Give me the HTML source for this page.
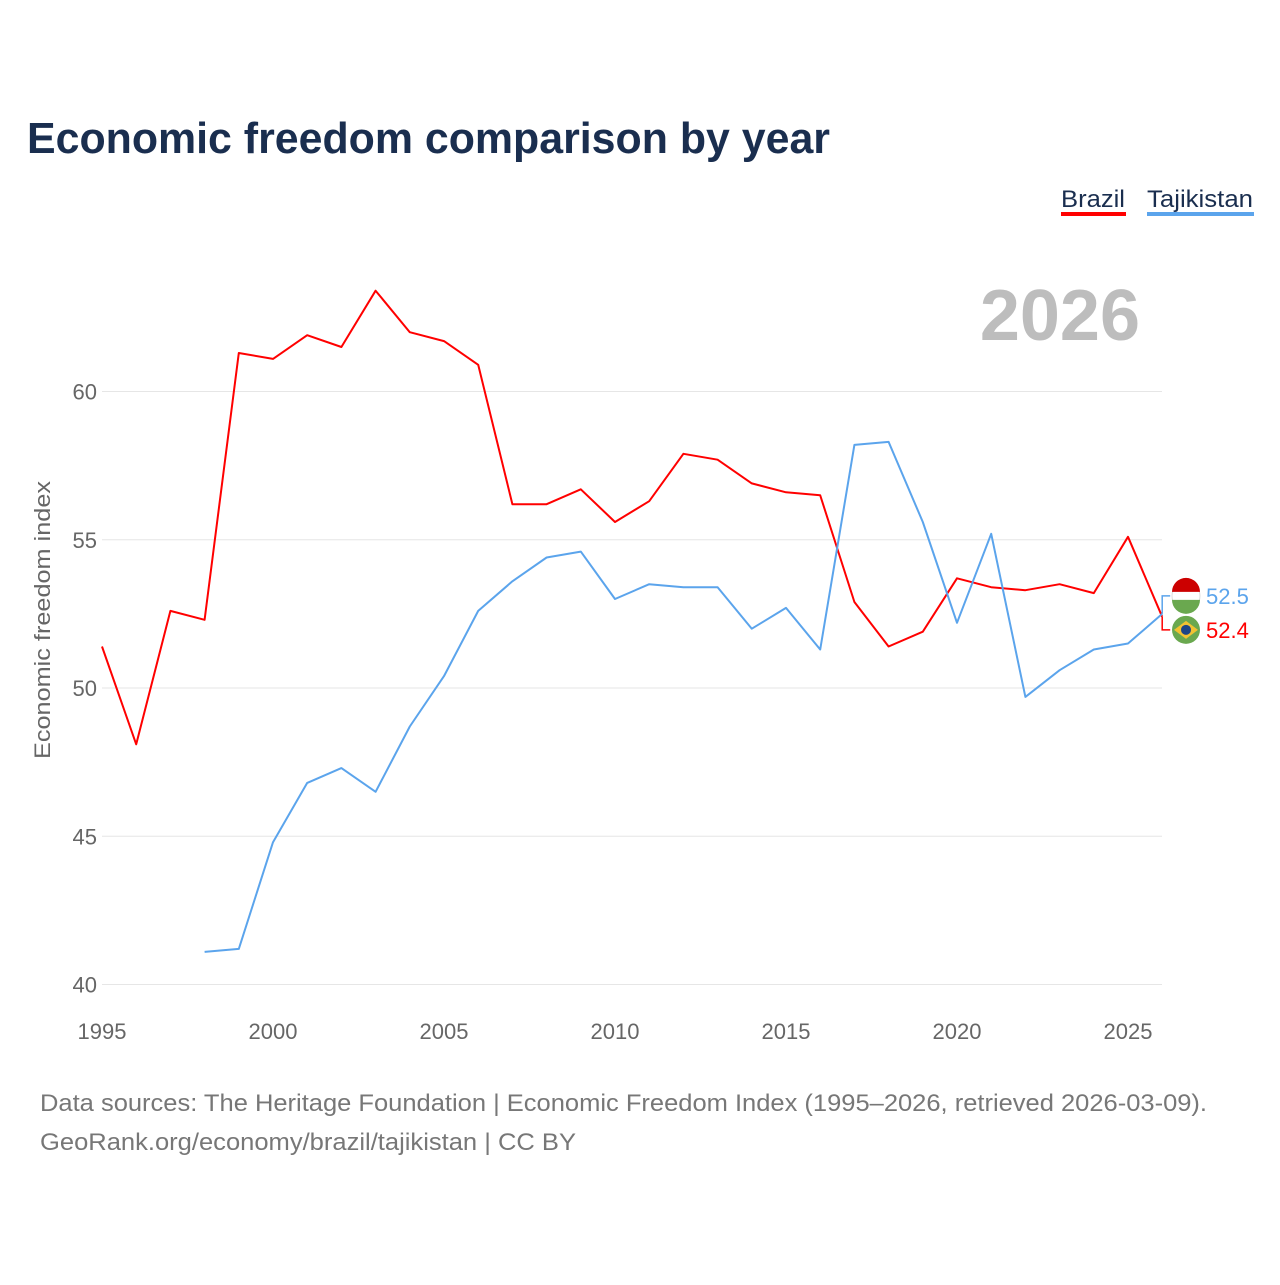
<!DOCTYPE html>
<html><head><meta charset="utf-8"><style>
body{margin:0;background:#fff;font-family:"Liberation Sans",sans-serif}
</style></head><body>
<svg id="chart" width="1280" height="1280" xmlns="http://www.w3.org/2000/svg" font-family="Liberation Sans, sans-serif">
<text x="27" y="153" font-size="44" font-weight="bold" fill="#1a2e4f" textLength="803" lengthAdjust="spacingAndGlyphs">Economic freedom comparison by year</text>
<g><text x="1061" y="207" font-size="24" fill="#1a2e4f" textLength="64" lengthAdjust="spacingAndGlyphs">Brazil</text><rect x="1061" y="212" width="65" height="4" fill="#ff0000"/></g>
<g><text x="1147" y="207" font-size="24" fill="#1a2e4f" textLength="106" lengthAdjust="spacingAndGlyphs">Tajikistan</text><rect x="1147" y="212" width="107" height="4" fill="#5ba4ec"/></g>
<text x="1140" y="340" font-size="72" font-weight="bold" fill="#bdbdbd" text-anchor="end">2026</text>
<g id="grid"></g><g id="xaxis"></g><g id="series"></g>
<text transform="translate(50,620) rotate(-90)" font-size="22" fill="#666" text-anchor="middle" textLength="278" lengthAdjust="spacingAndGlyphs">Economic freedom index</text>
<text x="40" y="1111" font-size="24" fill="#777" textLength="1167" lengthAdjust="spacingAndGlyphs">Data sources: The Heritage Foundation | Economic Freedom Index (1995–2026, retrieved 2026-03-09).</text>
<text x="40" y="1150" font-size="24" fill="#777" textLength="536" lengthAdjust="spacingAndGlyphs">GeoRank.org/economy/brazil/tajikistan | CC BY</text>
</svg>
<script>
const years=[];for(let y=1995;y<=2026;y++)years.push(y);
const brazil=[51.4,48.1,52.6,52.3,61.3,61.1,61.9,61.5,63.4,62.0,61.7,60.9,56.2,56.2,56.7,55.6,56.3,57.9,57.7,56.9,56.6,56.5,52.9,51.4,51.9,53.7,53.4,53.3,53.5,53.2,55.1,52.4];
const tajikistan=[null,null,null,41.1,41.2,44.8,46.8,47.3,46.5,48.7,50.4,52.6,53.6,54.4,54.6,53.0,53.5,53.4,53.4,52.0,52.7,51.3,58.2,58.3,55.6,52.2,55.2,49.7,50.6,51.3,51.5,52.5];
const yTicks=[40,45,50,55,60];
const xTicks=[1995,2000,2005,2010,2015,2020,2025];
const NS="http://www.w3.org/2000/svg";
const X=y=>102+(y-1995)*34.2;
const Y=v=>688-(v-50)*29.65;
function mk(t,a,p){const e=document.createElementNS(NS,t);for(const k in a)e.setAttribute(k,a[k]);p.appendChild(e);return e;}
const grid=document.getElementById('grid');
yTicks.forEach(v=>{
 const l=mk('line',{x1:102,x2:1162,y1:Y(v),y2:Y(v),stroke:'#e6e6e6','stroke-width':1},grid);
 
 
 const t=mk('text',{x:97,y:Y(v)+8,'font-size':22,fill:'#666','text-anchor':'end'},grid);t.textContent=v;
 
 
});
const xa=document.getElementById('xaxis');
xTicks.forEach(v=>{
 const t=mk('text',{x:X(v),y:1039,'font-size':22,fill:'#666','text-anchor':'middle'},xa);t.textContent=v;
 
 
});
const s=document.getElementById('series');
function line(data,color,name){
 let d='';data.forEach((v,i)=>{if(v==null)return;d+=(d?'L':'M')+X(years[i]).toFixed(1)+','+Y(v).toFixed(1);});
 const p=mk('path',{d:d,fill:'none',stroke:color,'stroke-width':2,'stroke-linejoin':'round'},s);
 
 
}
line(brazil,'#ff0000','brazil-line');
line(tajikistan,'#5ba4ec','tajikistan-line');
const bl=brazil[brazil.length-1],tl=tajikistan[tajikistan.length-1];
const ex=X(2026);
const tjY=Y(tl)-18,brY=Y(bl)+13;
mk('path',{d:`M${ex},${Y(tl)}L${ex},${tjY}L${ex+8},${tjY}`,stroke:'#5ba4ec',fill:'none','stroke-width':1.5},s);
mk('path',{d:`M${ex},${Y(bl)}L${ex},${brY}L${ex+8},${brY}`,stroke:'#ff0000',fill:'none','stroke-width':1.5},s);
const ft=mk('g',{},s);
mk('circle',{cx:1186,cy:tjY,r:14,fill:'#fff',stroke:'#ddd'},ft);
mk('path',{d:`M1172,${tjY-4}A14,14 0 0 1 1200,${tjY-4}Z`,fill:'#cc0000'},ft);
mk('path',{d:`M1172,${tjY+4}A14,14 0 0 0 1200,${tjY+4}Z`,fill:'#6aa84f'},ft);
const fb=mk('g',{},s);
mk('circle',{cx:1186,cy:brY,r:14,fill:'#6aa84f'},fb);
mk('path',{d:`M1174,${brY}L1186,${brY-9}L1198,${brY}L1186,${brY+9}Z`,fill:'#f1c232'},fb);
mk('circle',{cx:1186,cy:brY,r:5,fill:'#1c4587'},fb);
const tt=mk('text',{x:1206,y:tjY+8,'font-size':22,fill:'#5ba4ec'},s);tt.textContent=tl.toFixed(1);


const bt=mk('text',{x:1206,y:brY+8,'font-size':22,fill:'#ff0000'},s);bt.textContent=bl.toFixed(1);


</script>
</body></html>
